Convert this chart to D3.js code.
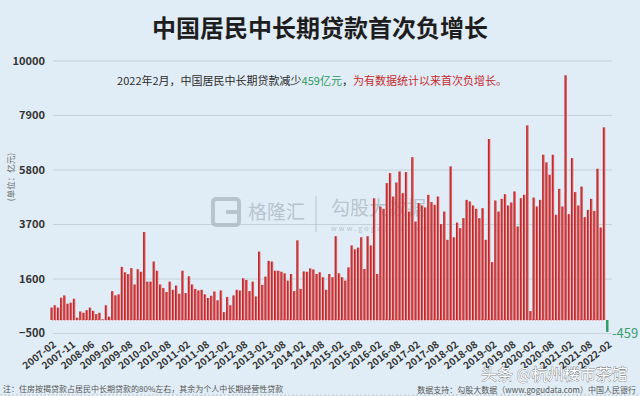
<!DOCTYPE html>
<html>
<head>
<meta charset="utf-8">
<script src="https://cdn.jsdelivr.net/npm/d3@7"></script>
<style>
  html, body { margin: 0; padding: 0; background: #e1edf6; }
  svg { display: block; font-family: "Noto Sans CJK SC", "Noto Sans", sans-serif; }
</style>
</head>
<body>
<svg id="chart" width="640" height="396"></svg>
<script>
// early months are not continuous in the source, from 2009-02 on it is monthly
const earlyMonths = [
  '2007-02', '2007-03', '2007-04', '2007-06', '2007-08', '2007-09',
  '2007-11', '2007-12', '2008-02', '2008-03', '2008-04', '2008-05',
  '2008-06', '2008-07', '2008-09', '2008-10', '2008-11', '2008-12',
];
const fmt = d3.timeFormat('%Y-%m');
const months = earlyMonths.concat(
  d3.timeMonth.range(new Date(2009, 1, 1), new Date(2022, 2, 1)).map(fmt)
);

// 居民中长期贷款 新增 (亿元)
const loans = [
  480, 570, 480, 860, 950, 630, 670, 820, 90, 330, 280, 380, 480, 355, 230, 280, 25, 570,
  130, 1115, 950, 990, 2050, 1840, 1770, 2000, 1370, 1960, 1860, 3390, 1480, 1480, 2255, 1900,
  1370, 1230, 1080, 1480, 1165, 1330, 1015, 1900, 1040, 1685, 1370, 1200, 1140, 1165, 990, 850,
  935, 1100, 760, 1140, 305, 885, 570, 950, 1165, 1140, 1610, 1545, 1115, 1480, 910, 2635,
  1355, 1672, 2280, 2255, 1900, 1900, 1860, 1800, 1520, 1775, 1115, 3070, 1200, 1875, 1860, 1990,
  1950, 1775, 1840, 1650, 1165, 1775, 1650, 3230, 1800, 1650, 1520, 2030, 2875, 2725, 2790, 3190,
  1965, 3230, 2875, 4690, 1775, 4370, 4285, 5275, 5660, 4760, 5300, 5725, 4890, 5700, 4180, 6275,
  3795, 4505, 4415, 4335, 4825, 4545, 4440, 4760, 3695, 4180, 3090, 5920, 3190, 3755, 3540, 3925,
  4630, 4570, 4415, 4285, 3925, 4310, 3090, 6975, 2230, 4605, 4180, 4670, 4850, 4415, 4530, 4955,
  3605, 4695, 4825, 7500, 345, 4720, 4375, 4630, 6370, 6075, 5600, 6370, 4055, 5055, 4375, 9430,
  4080, 6240, 4930, 4415, 5145, 3965, 4245, 4670, 4205, 5830, 3565, 7425, -459,
];
const yTicks = [-500, 1600, 3700, 5800, 7900, 10000];

const data = months.map((m, i) => ({ month: m, value: loans[i] }));

const svg = d3.select('#chart');

const x = d3
  .scaleBand()
  .domain(months)
  .range([50.5, 608.5])
  .paddingInner(0.22);

const y = d3
  .scaleLinear()
  .domain([-500, 10000])
  .range([333, 60.5]);

// bar gradient: dark edge on the left, lighter red body
const defs = svg.append('defs');
const grad = defs.append('linearGradient').attr('id', 'barGrad');
grad.append('stop').attr('offset', '0%').attr('stop-color', '#9c1b1f');
grad.append('stop').attr('offset', '40%').attr('stop-color', '#cf3033');
grad.append('stop').attr('offset', '100%').attr('stop-color', '#ec7a7b');

// title
svg.append('text')
  .attr('x', 320)
  .attr('y', 37)
  .attr('text-anchor', 'middle')
  .style('font-size', '24px')
  .style('font-weight', 700)
  .style('fill', '#1e1e1e')
  .text('中国居民中长期贷款首次负增长');

// y axis + gridlines
const yAxis = svg.append('g')
  .attr('transform', `translate(${53},0)`)
  .call(
    d3.axisLeft(y)
      .tickValues(yTicks)
      .tickSize(-559)
      .tickPadding(8)
      .tickFormat(d3.format('d'))
  );
yAxis.select('.domain').remove();
yAxis.selectAll('line').attr('stroke', '#c3d2dc').attr('stroke-width', 1);
yAxis.selectAll('text')
  .style('font-size', '11px')
  .style('font-weight', 700)
  .style('fill', '#333')
  .style('font-family', '"Noto Sans CJK SC", sans-serif');

// unit label
svg.append('text')
  .attr('transform', 'translate(14,177) rotate(-90)')
  .attr('text-anchor', 'middle')
  .style('font-size', '8.5px')
  .style('fill', '#6b6b6b')
  .text('(单位：亿元)');

// watermarks
const wm = svg.append('g').style('fill', '#a9b7c1').style('opacity', 0.75);
wm.append('rect')
  .attr('x', 213).attr('y', 199).attr('width', 26).attr('height', 26).attr('rx', 3)
  .style('fill', 'none').style('stroke', '#a9b7c1').style('stroke-width', 4);
wm.append('rect')
  .attr('x', 226).attr('y', 210).attr('width', 11).attr('height', 4);
wm.append('text').attr('x', 248).attr('y', 219).style('font-size', '19px').text('格隆汇');
wm.append('line')
  .attr('x1', 316).attr('x2', 316).attr('y1', 196).attr('y2', 232)
  .style('stroke', '#a9b7c1').style('stroke-width', 1);
wm.append('text').attr('x', 331).attr('y', 215).style('font-size', '19px').text('勾股大数据');
wm.append('text').attr('x', 331).attr('y', 231).style('font-size', '7px')
  .style('letter-spacing', '2.2px').text('www.gogudata.com');

// zero line (dotted)
svg.append('line')
  .attr('x1', 52).attr('x2', 604)
  .attr('y1', y(0)).attr('y2', y(0))
  .attr('stroke', '#eba2a8')
  .attr('stroke-width', 1.5)
  .attr('stroke-dasharray', '1.5,1.5');

// bars
svg.append('g')
  .selectAll('rect')
  .data(data)
  .enter()
  .append('rect')
  .attr('x', d => x(d.month))
  .attr('width', x.bandwidth())
  .attr('y', d => y(Math.max(0, d.value)))
  .attr('height', d => Math.abs(y(d.value) - y(0)))
  .attr('fill', d => (d.value < 0 ? '#2f9e68' : 'url(#barGrad)'));

// negative label
const last = data[data.length - 1];
svg.append('text')
  .attr('x', x(last.month) + 6)
  .attr('y', y(last.value) + 6)
  .style('font-size', '13px')
  .style('fill', '#3a9d72')
  .text(last.value);

// annotation
const note = svg.append('text')
  .attr('x', 312)
  .attr('y', 85)
  .attr('text-anchor', 'middle')
  .style('font-size', '11px');
note.append('tspan').style('fill', '#2b2b2b').text('2022年2月，中国居民中长期贷款减少');
note.append('tspan').style('fill', '#2f9a5c').text('459亿元');
note.append('tspan').style('fill', '#2b2b2b').text('，');
note.append('tspan').style('fill', '#c62a2f').text('为有数据统计以来首次负增长。');

// x axis labels, every 6th bar
const xAxis = svg.append('g')
  .attr('transform', `translate(0,${336})`)
  .call(
    d3.axisBottom(x)
      .tickValues(months.filter((d, i) => i % 6 === 0))
      .tickSize(0)
  );
xAxis.select('.domain').remove();
xAxis.selectAll('text')
  .attr('x', 0)
  .attr('y', 0)
  .attr('dy', '0.35em')
  .attr('text-anchor', 'end')
  .attr('transform', 'translate(3,7) rotate(-38)')
  .style('font-size', '10px')
  .style('font-weight', 700)
  .style('fill', '#333')
  .style('font-family', '"Noto Sans CJK SC", sans-serif');

// footer
svg.append('line')
  .attr('x1', 0).attr('x2', 640).attr('y1', 395).attr('y2', 395)
  .attr('stroke', '#b9c6cf').attr('stroke-dasharray', '2,2');
svg.append('text')
  .attr('x', 3)
  .attr('y', 392)
  .style('font-size', '8px')
  .style('fill', '#555')
  .text('注：住房按揭贷款占居民中长期贷款的80%左右，其余为个人中长期经营性贷款');
svg.append('text')
  .attr('x', 636)
  .attr('y', 393)
  .attr('text-anchor', 'end')
  .style('font-size', '8px')
  .style('fill', '#555')
  .text('数据支持：勾股大数据（www.gogudata.com）中国人民银行');

// platform mark
svg.append('text')
  .attr('x', 481)
  .attr('y', 380)
  .style('font-size', '16px')
  .style('fill', '#fff')
  .style('stroke', '#555')
  .style('stroke-width', 0.6)
  .style('paint-order', 'stroke')
  .text('头条 @杭州楼市茶馆');
</script>
</body>
</html>
